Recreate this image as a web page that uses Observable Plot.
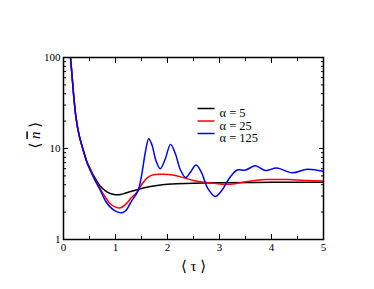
<!DOCTYPE html>
<html><head><meta charset="utf-8">
<script src="https://cdn.jsdelivr.net/npm/d3@7"></script>
<script src="https://cdn.jsdelivr.net/npm/@observablehq/plot@0.6"></script>
<style>
body{margin:0;background:#fff}
svg text{font-family:'Liberation Serif','DejaVu Serif',serif !important}
</style>
</head><body><div id="chart"></div>
<script>
const tau5 = [0.1,0.135,0.16,0.2,0.24,0.3,0.37,0.45,0.5,0.55,0.62,0.7,0.8,0.9,1.0,1.1,1.2,1.4,1.6,1.8,2.0,2.5,3.0,4.0,5.0];
const n5   = [200,100,68,36,22,14,10,7.2,6.2,5.4,4.6,3.9,3.45,3.2,3.1,3.12,3.25,3.5,3.75,3.93,4.04,4.15,4.2,4.25,4.27];

const tau25 = [0.1,0.135,0.16,0.2,0.24,0.3,0.37,0.45,0.5,0.55,0.62,0.7,0.8,0.9,1.0,1.1,1.2,1.3,1.43,1.5,1.6,1.7,1.8,1.9,2.1,2.3,2.5,2.7,2.9,3.1,3.3,3.5,3.9,4.3,4.7,5.0];
const n25   = [200,100,68,36,22,14,10,7.1,6.1,5.3,4.4,3.65,2.95,2.47,2.27,2.23,2.45,2.85,3.4,4.0,4.7,5.1,5.2,5.2,5.1,4.8,4.45,4.25,4.15,4.03,4.1,4.3,4.55,4.55,4.45,4.38];

const tau125 = [0.1,0.135,0.16,0.2,0.24,0.3,0.37,0.45,0.5,0.55,0.62,0.7,0.8,0.9,1.0,1.13,1.2,1.3,1.43,1.5,1.58,1.64,1.7,1.78,1.86,1.95,2.06,2.15,2.25,2.35,2.45,2.55,2.65,2.78,2.92,3.05,3.2,3.34,3.5,3.69,3.88,4.1,4.4,4.69,5.0];
const n125   = [200,100,68,36,22,14,10,7.0,6.0,5.2,4.3,3.55,2.7,2.27,2.05,1.97,2.08,2.6,3.4,5.0,9.5,12.8,11,7.3,6.0,7.5,11.1,8.8,5.8,4.8,5.6,6.6,5.5,3.6,2.97,3.5,4.8,5.8,5.8,6.45,5.73,6.1,5.4,5.93,5.6];

const seriesLabels = ["α = 5", "α = 25", "α = 125"];
const seriesColors = ["#000000", "#ff0000", "#0000ff"];
const xMajor = [0,1,2,3,4,5];
const xMinor = [0.5,1.5,2.5,3.5,4.5];
const yMajor = [1,10,100];
const yMinor = [2,3,4,5,6,7,8,9,20,30,40,50,60,70,80,90];
const xTitle = "⟨ τ ⟩";
const yTitle = "⟨ n ⟩";

const series = [[tau5,n5],[tau25,n25],[tau125,n125]].map(([t,n],i) =>
  t.map((tv,j) => ({tau: tv, n: n[j], s: seriesLabels[i]})));

const font = "'Liberation Serif', 'DejaVu Serif', serif";
const hline = {draw(ctx){ ctx.moveTo(-8.5,0); ctx.lineTo(8.5,0); }};

const marks = [];
series.forEach((d,i) => marks.push(Plot.line(d, {x:"tau", y:"n", stroke: seriesColors[i], strokeWidth: 1.5, curve:"catmull-rom", clip: true})));
marks.push(Plot.axisX(xMajor, {anchor:"bottom", tickSize:-5, tickPadding:8.5, label:null, fontSize:11}));
marks.push(Plot.axisX(xMinor, {anchor:"bottom", tickSize:-3, text:null, label:null}));
marks.push(Plot.axisX(xMajor, {anchor:"top", tickSize:-5, text:null, label:null}));
marks.push(Plot.axisX(xMinor, {anchor:"top", tickSize:-3, text:null, label:null}));
marks.push(Plot.axisY(yMajor, {anchor:"left", tickSize:-5, tickPadding:8, label:null, tickFormat:d=>String(d), fontSize:11}));
marks.push(Plot.axisY(yMinor, {anchor:"left", tickSize:-3, text:null, label:null}));
marks.push(Plot.axisY(yMajor, {anchor:"right", tickSize:-5, text:null, label:null}));
marks.push(Plot.axisY(yMinor, {anchor:"right", tickSize:-3, text:null, label:null}));
marks.push(Plot.frame({stroke:"black", strokeWidth:1.5}));
marks.push(Plot.text([yTitle], {frameAnchor:"left", dx:-28, rotate:-90, fontSize:15}));
marks.push(Plot.text([xTitle], {frameAnchor:"bottom", dy:31, fontSize:15}));
seriesLabels.forEach((lab,i) => {
  marks.push(Plot.dot([lab], {frameAnchor:"top-left", dx:142.5, dy:51+12.5*i, symbol:hline, stroke:seriesColors[i], strokeWidth:1.5, r:4}));
  marks.push(Plot.text([lab], {frameAnchor:"top-left", dx:156, dy:51+12.5*i, textAnchor:"start", fontSize:12.5}));
});

const chart = Plot.plot({
  width: 374, height: 289,
  marginLeft: 63, marginRight: 51, marginTop: 57, marginBottom: 50,
  style: {fontFamily: font, background:"#fff", color:"black"},
  x: {domain:[0,5]},
  y: {type:"log", domain:[1,100]},
  marks
});
// style the y title: italic n with an overbar
d3.select(chart).selectAll("text").filter(function(){ return this.textContent === yTitle; })
  .each(function(){
    const t = d3.select(this);
    t.text(null);
    t.append("tspan").text("⟨ ");
    t.append("tspan").attr("font-style","italic").style("text-decoration","overline").text("n");
    t.append("tspan").text(" ⟩");
  });
document.getElementById("chart").appendChild(chart);
</script>
</body></html>
